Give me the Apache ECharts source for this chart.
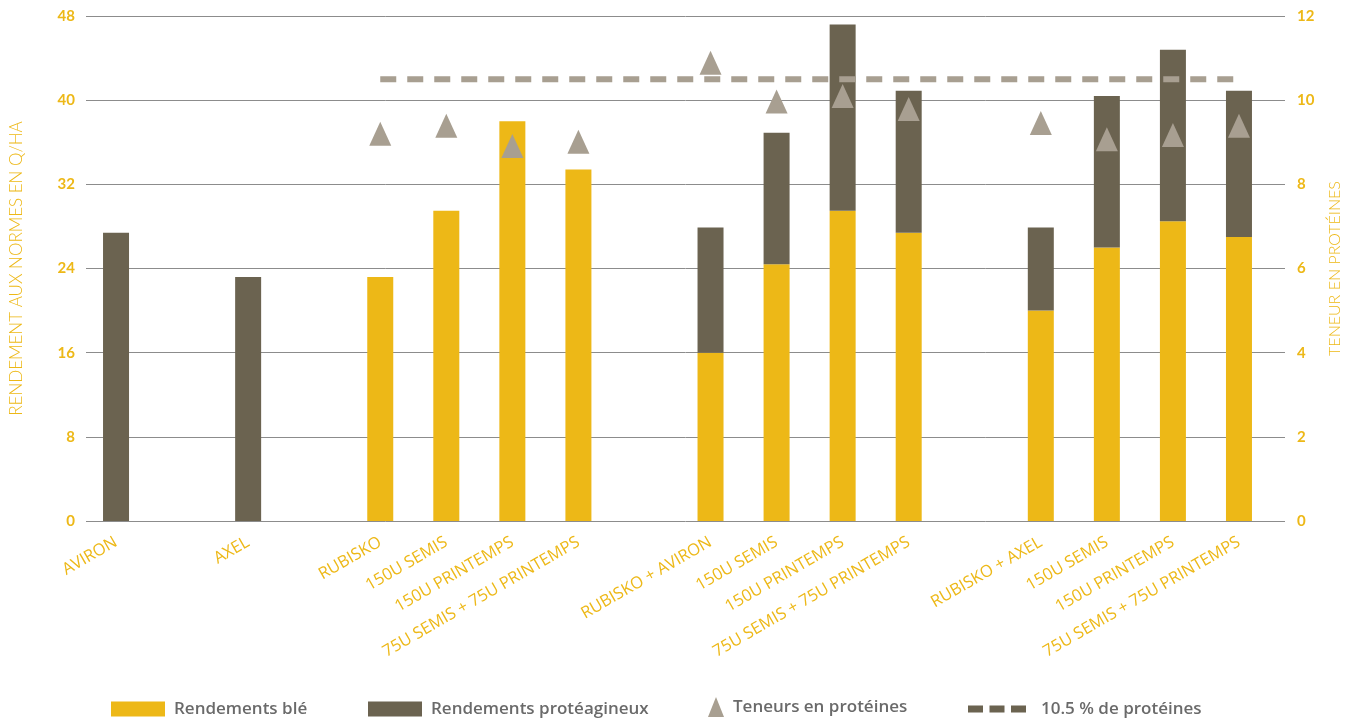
<!DOCTYPE html>
<html>
<head>
<meta charset="utf-8">
<script src="https://cdn.jsdelivr.net/npm/echarts@6/dist/echarts.min.js"></script>
<style>
html,body{margin:0;padding:0;background:#fff;}
#chart{width:1351px;height:719px;}
</style>
</head>
<body>
<div id="chart"></div>
<script>
// ---- Data ----
const categories = ['AVIRON', '', 'AXEL', '', 'RUBISKO', '150U SEMIS', '150U PRINTEMPS', '75U SEMIS + 75U PRINTEMPS', '',
  'RUBISKO + AVIRON', '150U SEMIS', '150U PRINTEMPS', '75U SEMIS + 75U PRINTEMPS', '',
  'RUBISKO + AXEL', '150U SEMIS', '150U PRINTEMPS', '75U SEMIS + 75U PRINTEMPS'];
const rendementsBle = [null, null, null, null, 23.2, 29.5, 38.0, 33.4, null, 16.0, 24.4, 29.5, 27.4, null, 20.0, 26.0, 28.5, 27.0];
const rendementsProteagineux = [27.4, null, 23.2, null, null, null, null, null, null, 11.9, 12.5, 17.7, 13.5, null, 7.9, 14.4, 16.3, 13.9];
const teneursProteines = [null, null, null, null, 9.20, 9.39, 8.91, 9.01, null, 10.89, 9.97, 10.10, 9.79, null, 9.46, 9.07, 9.17, 9.39];
const seuilProteines = [null, null, null, null, 10.5, 10.5, 10.5, 10.5, 10.5, 10.5, 10.5, 10.5, 10.5, 10.5, 10.5, 10.5, 10.5, 10.5];
const leftTicks = { min: 0, max: 48, interval: 8 };
const rightTicks = { min: 0, max: 12, interval: 2 };

const YELLOW = '#EDB817';
const DARK = '#6B6350';
const TRI = '#A89F91';
const GRIDC = '#8c8c8c';
const LEGTXT = '#6a6a6a';

const chart = echarts.init(document.getElementById('chart'), null, { renderer: 'canvas' });

const legendText = { color: LEGTXT, fontSize: 17, fontFamily: 'Open Sans', fontWeight: 600, lineHeight: 20, padding: [0, 0, 0, 4] };

const option = {
  backgroundColor: '#ffffff',
  animation: false,
  grid: [
    { left: 85, right: 65, top: 16, bottom: 198 },
    { left: 83, right: 79, top: 16, bottom: 198 }
  ],
  legend: [
    { left: 111, top: 699, padding: 0, itemWidth: 54, itemHeight: 15, data: [{ name: 'Rendements blé', icon: 'rect' }], textStyle: legendText },
    { left: 368, top: 699, padding: 0, itemWidth: 54, itemHeight: 15, data: [{ name: 'Rendements protéagineux', icon: 'rect' }], textStyle: legendText },
    { left: 708, top: 697, padding: 0, itemWidth: 16, itemHeight: 20, data: [{ name: 'Teneurs en protéines', icon: 'triangle' }], textStyle: legendText },
    { left: 968, top: 699, padding: 0, itemWidth: 58, itemHeight: 7,
      data: [{ name: '10.5 % de protéines', icon: 'path://M0,0h15v7h-15z M21.5,0h15v7h-15z M43,0h15v7h-15z', itemStyle: { color: DARK } }],
      textStyle: Object.assign({}, legendText, { padding: [0, 0, 0, 10] }) }
  ],
  xAxis: [
    { gridIndex: 0, type: 'value', min: 0, max: 1, show: false },
    {
      gridIndex: 1, type: 'category', data: categories,
      axisLine: { show: false }, axisTick: { show: false }, splitLine: { show: false },
      axisLabel: { interval: 0, rotate: 30, margin: 20, color: YELLOW, fontSize: 16.5, fontFamily: 'Open Sans', fontWeight: 500 }
    }
  ],
  yAxis: [
    {
      gridIndex: 0, type: 'value', position: 'left', min: leftTicks.min, max: leftTicks.max, interval: leftTicks.interval,
      name: 'RENDEMENT AUX NORMES EN Q/HA', nameLocation: 'middle', nameRotate: 90, nameGap: 61,
      nameTextStyle: { color: YELLOW, fontSize: 17, fontFamily: 'Lato', fontWeight: 300 },
      axisLine: { show: false }, axisTick: { show: false },
      axisLabel: { color: YELLOW, fontSize: 15, fontFamily: 'Lato', fontWeight: 'bold', margin: 11 },
      splitLine: { show: true, lineStyle: { color: GRIDC, width: 1 } }
    },
    {
      gridIndex: 0, type: 'value', position: 'right', min: rightTicks.min, max: rightTicks.max, interval: rightTicks.interval,
      name: 'TENEUR EN PROTÉINES', nameLocation: 'middle', nameRotate: 90, nameGap: 42,
      nameTextStyle: { color: YELLOW, fontSize: 16, fontFamily: 'Lato', fontWeight: 300 },
      axisLine: { show: false }, axisTick: { show: false },
      axisLabel: { color: YELLOW, fontSize: 15, fontFamily: 'Lato', fontWeight: 'bold', margin: 12 },
      splitLine: { show: false }
    },
    { gridIndex: 1, type: 'value', min: leftTicks.min, max: leftTicks.max, show: false, splitLine: { show: false } },
    { gridIndex: 1, type: 'value', min: rightTicks.min, max: rightTicks.max, show: false, splitLine: { show: false } }
  ],
  series: [
    { name: 'Rendements blé', type: 'bar', xAxisIndex: 1, yAxisIndex: 2, stack: 'r', barWidth: 26,
      data: rendementsBle, itemStyle: { color: YELLOW }, z: 2 },
    { name: 'Rendements protéagineux', type: 'bar', xAxisIndex: 1, yAxisIndex: 2, stack: 'r', barWidth: 26,
      data: rendementsProteagineux, itemStyle: { color: DARK }, z: 2 },
    { name: '10.5 % de protéines', type: 'line', xAxisIndex: 1, yAxisIndex: 3, data: seuilProteines,
      symbol: 'none', lineStyle: { color: TRI, width: 6, type: [16, 11], cap: 'butt' }, itemStyle: { color: DARK }, z: 3 },
    { name: 'Teneurs en protéines', type: 'scatter', xAxisIndex: 1, yAxisIndex: 3, data: teneursProteines,
      symbol: 'triangle', symbolSize: [22, 24], itemStyle: { color: TRI, opacity: 1 }, z: 4 }
  ]
};
chart.setOption(option);
</script>
</body>
</html>
